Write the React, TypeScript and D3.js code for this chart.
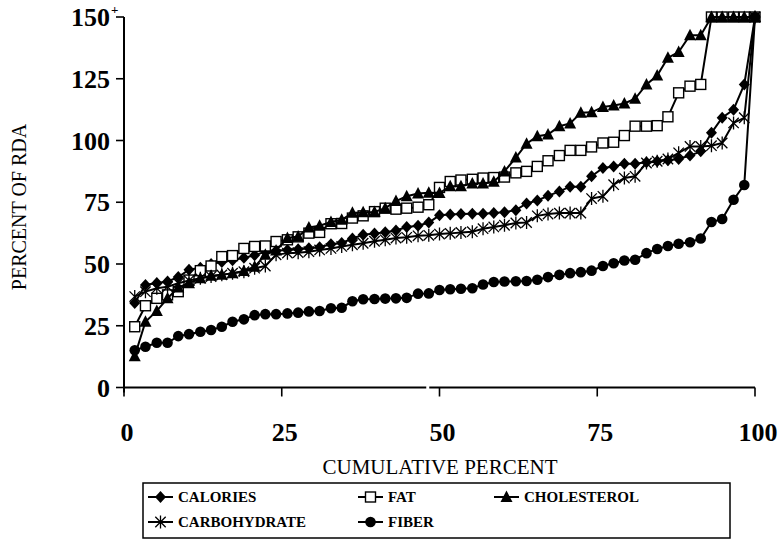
import React from 'react';
import * as d3 from 'd3';

// cumulative percent of the sample (x) for each ranked point
const cumulativePercent = [
  1.7, 3.4, 5.2, 6.9, 8.6, 10.3, 12.1, 13.8, 15.5, 17.2, 19.0, 20.7, 22.4, 24.1, 25.9,
  27.6, 29.3, 31.0, 32.8, 34.5, 36.2, 37.9, 39.7, 41.4, 43.1, 44.8, 46.6, 48.3, 50.0,
  51.7, 53.4, 55.2, 56.9, 58.6, 60.3, 62.1, 63.8, 65.5, 67.2, 69.0, 70.7, 72.4, 74.1,
  75.9, 77.6, 79.3, 81.0, 82.8, 84.5, 86.2, 87.9, 89.7, 91.4, 93.1, 94.8, 96.6, 98.3, 100,
];

const calories = [
  34.2, 41.5, 42.3, 42.9, 44.7, 47.7, 48.5, 50.0, 50.8, 51.5, 52.5, 53.5, 55.0, 55.4, 55.7,
  56.0, 56.4, 56.8, 58.0, 58.5, 60.3, 61.8, 62.3, 62.9, 63.6, 65.0, 65.5, 66.8, 69.7, 70.0,
  70.2, 70.3, 70.3, 70.6, 71.0, 71.8, 74.5, 75.7, 77.6, 79.4, 81.3, 81.3, 85.5, 88.9, 89.5,
  90.6, 90.6, 91.2, 91.6, 92.0, 92.5, 93.9, 95.6, 103.1, 109.2, 112.5, 122.7, 150,
];

const fat = [
  24.6, 33.1, 36.1, 37.5, 38.8, 43.5, 47.3, 49.2, 53.0, 53.4, 56.3, 57.1, 57.3, 59.1, 59.8,
  61.0, 62.5, 62.8, 66.3, 66.4, 68.6, 69.5, 71.2, 72.6, 72.2, 72.6, 73.0, 74.0, 81.0, 83.4,
  84.0, 84.3, 84.8, 85.0, 85.2, 86.9, 87.5, 89.5, 91.8, 93.9, 96.0, 96.0, 97.4, 99.0, 99.3,
  102.0, 105.8, 105.8, 106.0, 109.6, 119.3, 122.0, 122.7, 150, 150, 150, 150, 150,
];

const cholesterol = [
  12.7, 26.6, 31.0, 36.1, 40.5, 42.2, 44.2, 45.2, 45.6, 46.3, 47.2, 48.9, 53.7, 55.5, 60.5,
  61.1, 64.8, 65.5, 67.0, 67.9, 70.7, 71.0, 71.1, 72.6, 75.5, 77.4, 78.5, 78.8, 78.7, 81.5,
  81.5, 82.6, 82.6, 83.3, 87.5, 93.1, 98.7, 101.7, 102.4, 105.8, 106.9, 111.2, 111.4, 113.6,
  114.2, 115.0, 116.9, 122.7, 126.3, 133.5, 135.8, 142.6, 142.6, 150, 150, 150, 150, 150,
];

const carbohydrate = [
  36.8, 38.8, 40.2, 40.8, 42.2, 43.3, 44.2, 44.9, 45.6, 46.3, 46.9, 48.3, 49.2, 53.7, 54.4,
  54.6, 55.0, 55.7, 56.3, 57.1, 57.8, 58.4, 59.2, 59.8, 60.5, 60.8, 61.4, 61.6, 62.1, 62.4,
  62.8, 63.1, 64.3, 65.0, 65.7, 66.6, 66.8, 69.5, 70.2, 70.6, 70.6, 70.6, 76.5, 77.4, 82.1,
  84.8, 85.5, 90.9, 91.6, 92.5, 95.0, 97.6, 97.6, 97.9, 99.0, 107.1, 109.2, 150,
];

const fiber = [
  15.1, 16.5, 18.1, 18.1, 20.8, 21.6, 22.6, 23.3, 24.6, 26.6, 27.6, 29.3, 29.7, 29.7, 30.0,
  30.3, 30.8, 31.0, 32.1, 32.3, 34.9, 35.7, 35.8, 36.0, 36.1, 36.3, 38.0, 38.1, 39.5, 39.8,
  40.0, 40.2, 41.7, 42.7, 42.9, 43.0, 43.1, 43.6, 44.7, 45.6, 46.3, 46.7, 47.3, 49.2, 50.3,
  51.4, 51.7, 54.4, 56.1, 57.3, 58.2, 58.8, 60.3, 67.0, 68.2, 76.0, 82.0, 150,
];

const xTicks = [0, 25, 50, 75, 100];
const yTicks = [0, 25, 50, 75, 100, 125, 150];

const seriesList = [
  { name: 'CALORIES', values: calories, marker: 'diamond' },
  { name: 'FAT', values: fat, marker: 'square' },
  { name: 'CHOLESTEROL', values: cholesterol, marker: 'triangle' },
  { name: 'CARBOHYDRATE', values: carbohydrate, marker: 'asterisk' },
  { name: 'FIBER', values: fiber, marker: 'circle' },
];

const serif = '"Liberation Serif", "Times New Roman", serif';

const x = d3.scaleLinear().domain([0, 100]).range([124, 755]);
const y = d3.scaleLinear().domain([0, 150]).range([387.5, 17]);

const Marker = ({ type, cx, cy }: { type: string; cx: number; cy: number }) => {
  if (type === 'diamond') {
    return <path d={`M${cx},${cy - 6}L${cx + 5.5},${cy}L${cx},${cy + 6}L${cx - 5.5},${cy}Z`} fill="#000" />;
  }
  if (type === 'square') {
    return <rect x={cx - 5} y={cy - 5} width={10} height={10} fill="#fff" stroke="#000" strokeWidth={1.4} />;
  }
  if (type === 'triangle') {
    return <path d={`M${cx},${cy - 6.5}L${cx + 6},${cy + 5}L${cx - 6},${cy + 5}Z`} fill="#000" />;
  }
  if (type === 'circle') {
    return <circle cx={cx} cy={cy} r={5.3} fill="#000" />;
  }
  // asterisk
  const r = 6.5;
  const d = r * 0.8;
  return (
    <path
      d={`M${cx},${cy - r}V${cy + r}M${cx - d},${cy - d}L${cx + d},${cy + d}M${cx - d},${cy + d}L${cx + d},${cy - d}`}
      stroke="#000"
      strokeWidth={1.3}
      fill="none"
    />
  );
};

const App = () => {
  const line = d3
    .line<number>()
    .x((_, i) => x(cumulativePercent[i]))
    .y(d => y(d));

  const legendItems = [
    { s: seriesList[0], lx: 148, ly: 497 },
    { s: seriesList[1], lx: 358, ly: 497 },
    { s: seriesList[2], lx: 494, ly: 497 },
    { s: seriesList[3], lx: 148, ly: 522 },
    { s: seriesList[4], lx: 358, ly: 522 },
  ];

  return (
    <svg width={778} height={552} style={{ position: 'absolute', left: 0, top: 0, background: '#fff' }}>
      <rect width={778} height={552} fill="#fff" />

      {/* axes */}
      <line x1={x(0)} x2={x(0)} y1={y(150)} y2={y(0) + 5} stroke="#000" strokeWidth={2} />
      <line x1={x(0) - 1} x2={x(100)} y1={y(0)} y2={y(0)} stroke="#000" strokeWidth={2} />
      <rect x={x(47.9)} y={y(0) - 2} width={3} height={4} fill="#fff" />
      {yTicks.map(t => (
        <line key={'yt' + t} x1={x(0) - 8} x2={x(0)} y1={y(t)} y2={y(t)} stroke="#000" strokeWidth={1.6} />
      ))}
      {xTicks.map(t => (
        <line key={'xt' + t} x1={x(t)} x2={x(t)} y1={y(0)} y2={y(0) + 9} stroke="#000" strokeWidth={1.6} />
      ))}
      {yTicks.map(t => (
        <text
          key={'yl' + t}
          x={110}
          y={y(t)}
          dy="0.35em"
          textAnchor="end"
          fontFamily={serif}
          fontWeight="bold"
          fontSize={26}
        >
          {t}
        </text>
      ))}
      <text x={111} y={y(150) - 3} fontFamily={serif} fontWeight="bold" fontSize={13}>
        +
      </text>
      {xTicks.map(t => (
        <text
          key={'xl' + t}
          x={x(t) + 3}
          y={441}
          textAnchor="middle"
          fontFamily={serif}
          fontWeight="bold"
          fontSize={26}
        >
          {t}
        </text>
      ))}
      <text x={440} y={474} textAnchor="middle" fontFamily={serif} fontSize={21}>
        CUMULATIVE PERCENT
      </text>
      <text
        transform={`translate(26,${207}) rotate(-90)`}
        textAnchor="middle"
        fontFamily={serif}
        fontSize={20}
      >
        PERCENT OF RDA
      </text>

      {/* series */}
      {seriesList.map(s => (
        <g key={s.name}>
          <path d={line(s.values) || ''} fill="none" stroke="#000" strokeWidth={2} />
          {s.values.map((v, i) => (
            <Marker key={i} type={s.marker} cx={x(cumulativePercent[i])} cy={y(v)} />
          ))}
        </g>
      ))}

      {/* legend */}
      <rect x={143} y={483} width={587} height={55} fill="#fff" stroke="#000" strokeWidth={1.5} />
      {legendItems.map(({ s, lx, ly }) => (
        <g key={'lg' + s.name}>
          <line x1={lx} x2={lx + 25} y1={ly} y2={ly} stroke="#000" strokeWidth={2} />
          <Marker type={s.marker} cx={lx + 12.5} cy={ly} />
          <text x={lx + 30} y={ly} dy="0.35em" fontFamily={serif} fontWeight="bold" fontSize={15}>
            {s.name}
          </text>
        </g>
      ))}
    </svg>
  );
};

export default App;
